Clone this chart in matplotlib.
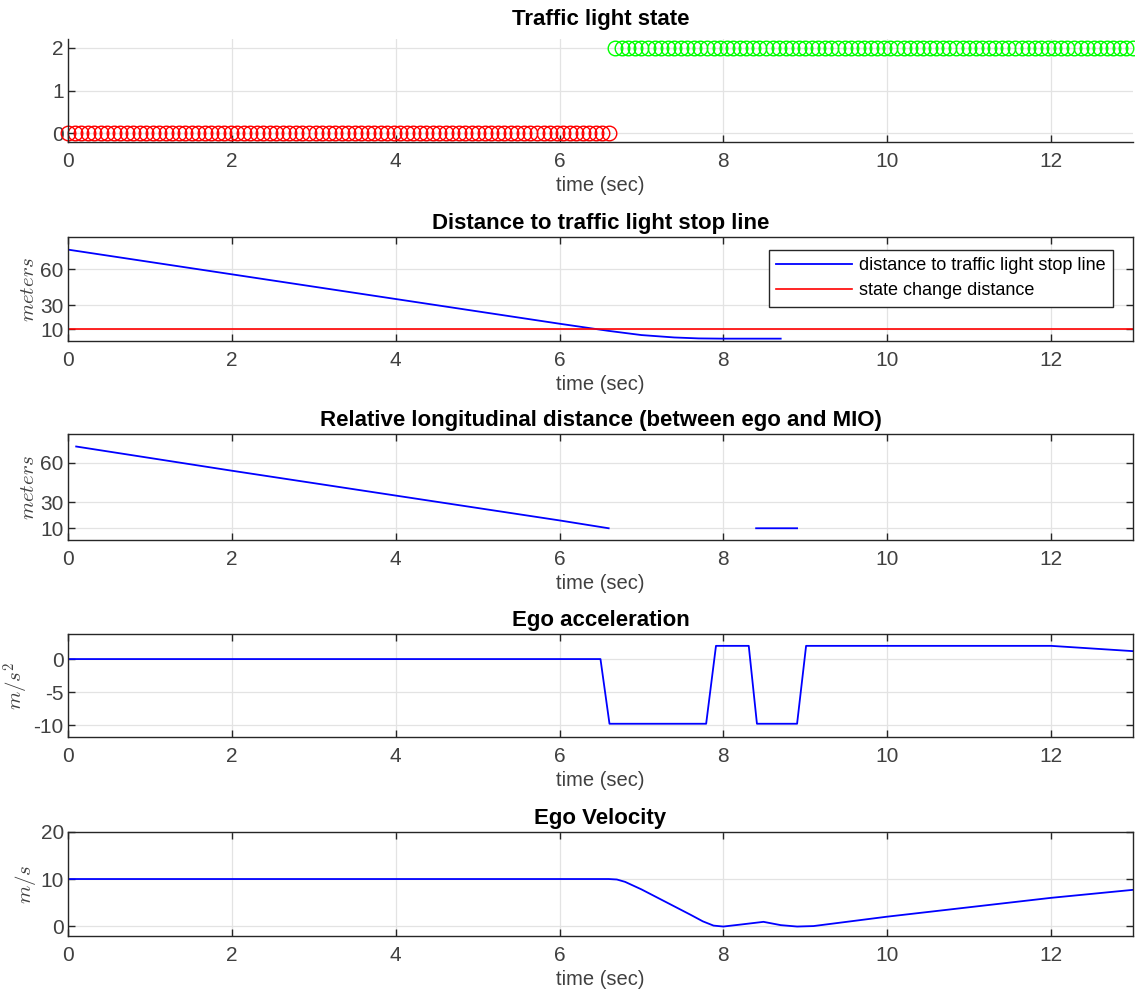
import matplotlib.pyplot as plt
import numpy as np

plt.rcParams['font.family'] = ['Liberation Sans', 'DejaVu Sans']
plt.rcParams['mathtext.fontset'] = 'cm'
plt.rcParams['axes.unicode_minus'] = False

# traffic light state samples
red_time = np.linspace(0.0, 6.6, 84)
green_time = np.linspace(6.68, 13.0, 80)
red_state = 0
green_state = 2

# distance to stop line
dist_time = [0, 6.0, 6.6, 7.0, 7.4, 7.7, 8.0, 8.7]
dist_vals = [76.5, 14.5, 8.5, 5.0, 3.0, 2.2, 2.0, 2.0]
state_change_dist = 10

# relative distance to MIO (NaN = no MIO)
rel_time = [0.1, 2.0, 4.0, 6.0, 6.6, 6.7, 8.4, 8.9]
rel_vals = [72.5, 54.0, 35.0, 16.0, 10.0, np.nan, 10.0, 10.0]

# ego acceleration
acc_time = [0, 6.5, 6.61, 7.79, 7.91, 8.31, 8.41, 8.9, 9.01, 12.0, 13.0]
acc_vals = [0, 0, -9.8, -9.8, 2, 2, -9.8, -9.8, 2, 2, 1.2]

# ego velocity
vel_time = [0, 6.6, 6.7, 6.8, 7.0, 7.2, 7.4, 7.6, 7.75, 7.88, 8.0, 8.2, 8.49,
            8.7, 8.9, 9.1, 10, 12, 13]
vel_vals = [10, 10, 9.9, 9.4, 7.8, 6.0, 4.2, 2.4, 1.0, 0.1, -0.1, 0.3, 0.9,
            0.2, -0.1, 0.0, 2.0, 6.0, 7.7]

fig = plt.figure(figsize=(11.35, 9.94), dpi=100)

spine_col = '#262626'
tick_col = '#404040'
grid_col = '#e3e3e3'
tick_fs = 15
title_fs = 16

boxes = [(0.8571, 0.1036), (0.6569, 0.1046), (0.4567, 0.1066),
         (0.2586, 0.1036), (0.0584, 0.1046)]
axes = []
for y0, h in boxes:
    ax = fig.add_axes([0.0599, y0, 0.9383, h])
    ax.set_xlim(0, 13)
    ax.set_xticks([0, 2, 4, 6, 8, 10, 12])
    ax.grid(True, color=grid_col, lw=0.9)
    ax.set_axisbelow(True)
    ax.tick_params(direction='in', length=5, width=1, colors=spine_col,
                   labelcolor=tick_col, labelsize=tick_fs, top=True, right=True)
    ax.tick_params(axis='x', pad=7)
    ax.tick_params(axis='y', pad=3)
    for s in ax.spines.values():
        s.set_color(spine_col)
        s.set_linewidth(1.0)
    ax.set_xlabel('time (sec)', fontsize=14.5, color=tick_col, labelpad=4)
    axes.append(ax)

# 1. traffic light state
ax = axes[0]
ax.plot(red_time, np.full(len(red_time), red_state), 'o', mfc='none',
        mec='#ff0000', ms=10.5, mew=1, clip_on=False)
ax.plot(green_time, np.full(len(green_time), green_state), 'o', mfc='none',
        mec='#00ff00', ms=10.5, mew=1, clip_on=False)
ax.set_ylim(-0.2, 2.2)
ax.set_yticks([0, 1, 2])
ax.spines['top'].set_visible(False)
ax.spines['right'].set_visible(False)
ax.tick_params(top=False, right=False)
ax.set_title('Traffic light state', fontsize=title_fs, fontweight='bold', pad=10)

# 2. distance to stop line
ax = axes[1]
ax.plot(dist_time, dist_vals, color='#0000ff', lw=1.3,
        label='distance to traffic light stop line')
ax.axhline(state_change_dist, color='#ff0000', lw=1.2, label='state change distance')
ax.set_ylim(0, 87)
ax.set_yticks([10, 30, 60])
ax.set_ylabel(r'$meters$', fontsize=15, color=tick_col, labelpad=2)
ax.set_title('Distance to traffic light stop line', fontsize=title_fs,
             fontweight='bold', pad=6)
leg = ax.legend(loc='upper right', bbox_to_anchor=(0.981, 0.875), fontsize=13,
                handlelength=4.2, handletextpad=0.4, labelspacing=0.45,
                borderpad=0.4, borderaxespad=0, fancybox=False, framealpha=1)
leg.get_frame().set_edgecolor(spine_col)
leg.get_frame().set_linewidth(1.0)

# 3. relative distance
ax = axes[2]
ax.plot(rel_time, rel_vals, color='#0000ff', lw=1.3)
ax.set_ylim(1, 82)
ax.set_yticks([10, 30, 60])
ax.set_ylabel(r'$meters$', fontsize=15, color=tick_col, labelpad=2)
ax.set_title('Relative longitudinal distance (between ego and MIO)',
             fontsize=title_fs, fontweight='bold', pad=6)

# 4. acceleration
ax = axes[3]
ax.plot(acc_time, acc_vals, color='#0000ff', lw=1.3)
ax.set_ylim(-11.8, 3.8)
ax.set_yticks([-10, -5, 0])
ax.set_ylabel(r'$m/s^2$', fontsize=15, color=tick_col, labelpad=2)
ax.set_title('Ego acceleration', fontsize=title_fs, fontweight='bold', pad=6)

# 5. velocity
ax = axes[4]
ax.plot(vel_time, vel_vals, color='#0000ff', lw=1.3)
ax.set_ylim(-2.1, 20)
ax.set_yticks([0, 10, 20])
ax.set_ylabel(r'$m/s$', fontsize=15, color=tick_col, labelpad=2)
ax.set_title('Ego Velocity', fontsize=title_fs, fontweight='bold', pad=6)

fig.savefig('out.png', dpi=100)
